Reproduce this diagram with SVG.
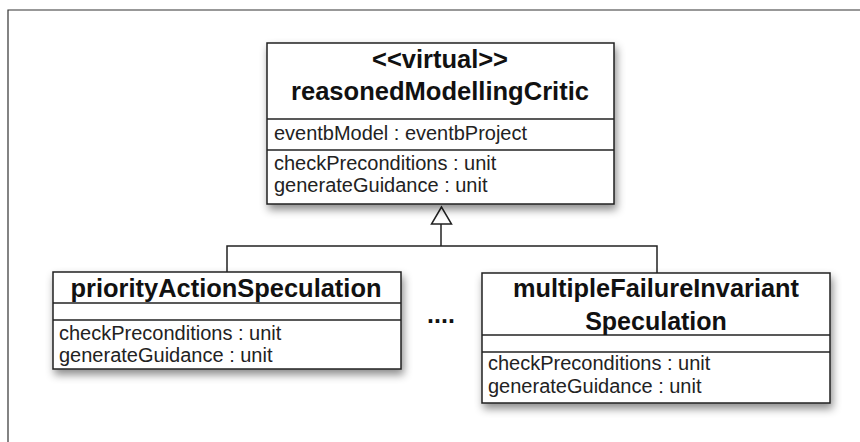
<svg xmlns="http://www.w3.org/2000/svg" width="860" height="442" viewBox="0 0 860 442">
<style>
.box{fill:#fff;stroke:#222;stroke-width:1.5}
.sep{stroke:#222;stroke-width:1.3}
.t{font-family:"Liberation Sans",Arial,sans-serif;font-weight:bold;font-size:25px;fill:#111;text-anchor:middle}
.m{font-family:"Liberation Sans",Arial,sans-serif;font-size:20px;fill:#222}
.c{fill:none;stroke:#222;stroke-width:1.5}
</style>
<defs>
<filter id="sh" x="-10%" y="-10%" width="125%" height="135%">
<feDropShadow dx="2" dy="5" stdDeviation="4" flood-color="#000" flood-opacity="0.45"/>
</filter>
</defs>
<rect width="860" height="442" fill="#fff"/>
<path d="M8,442 V10 H860" fill="none" stroke="#333" stroke-width="1.2"/>
<g id="connectors">
<path class="c" d="M227,272 V246 H657 V273"/>
<path class="c" d="M441,224 V246"/>
<polygon points="441.5,207 431.5,224 451.5,224" fill="#fff" stroke="#222" stroke-width="1.5"/>
</g>
<g id="reasonedModellingCritic">
<rect class="box" x="267" y="43" width="347" height="161" filter="url(#sh)"/>
<line class="sep" x1="267" y1="119" x2="614" y2="119"/>
<line class="sep" x1="267" y1="150" x2="614" y2="150"/>
<text class="t" x="440" y="68" textLength="136" lengthAdjust="spacingAndGlyphs">&lt;&lt;virtual&gt;&gt;</text>
<text class="t" x="440" y="100" textLength="298" lengthAdjust="spacingAndGlyphs">reasonedModellingCritic</text>
<text class="m" x="274" y="140" textLength="253" lengthAdjust="spacingAndGlyphs">eventbModel : eventbProject</text>
<text class="m" x="274" y="170">checkPreconditions : unit</text>
<text class="m" x="274" y="192">generateGuidance : unit</text>
</g>
<g id="priorityActionSpeculation">
<rect class="box" x="53" y="272" width="348" height="97" filter="url(#sh)"/>
<line class="sep" x1="53" y1="303" x2="401" y2="303"/>
<line class="sep" x1="53" y1="320" x2="401" y2="320"/>
<text class="t" x="226" y="297" textLength="311" lengthAdjust="spacingAndGlyphs">priorityActionSpeculation</text>
<text class="m" x="59" y="340">checkPreconditions : unit</text>
<text class="m" x="59" y="362">generateGuidance : unit</text>
</g>
<g id="ellipsis">
<text class="t" x="441" y="323" font-size="22">....</text>
</g>
<g id="multipleFailureInvariantSpeculation">
<rect class="box" x="482" y="273" width="348" height="130" filter="url(#sh)"/>
<line class="sep" x1="482" y1="335" x2="830" y2="335"/>
<line class="sep" x1="482" y1="352" x2="830" y2="352"/>
<text class="t" x="656" y="297" textLength="286" lengthAdjust="spacingAndGlyphs">multipleFailureInvariant</text>
<text class="t" x="656" y="330">Speculation</text>
<text class="m" x="488" y="370">checkPreconditions : unit</text>
<text class="m" x="488" y="393">generateGuidance : unit</text>
</g>
</svg>
